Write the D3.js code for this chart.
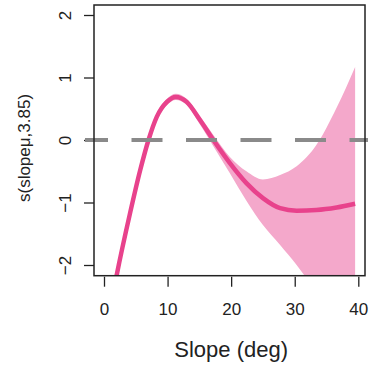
<!DOCTYPE html>
<html>
<head>
<meta charset="utf-8">
<script src="https://cdn.jsdelivr.net/npm/d3@7"></script>
<style>
  html, body { margin: 0; padding: 0; background: #fff; }
  svg { display: block; font-family: "Liberation Sans", Arial, sans-serif; }
  .tick text { fill: #222; font-size: 17px; }
  .tick line { stroke: #222; stroke-width: 1.3; }
</style>
</head>
<body>
<div id="chart"></div>
<script>
const SLOPE = [1.5, 2, 4.1, 5.7, 7, 8.3, 9.9, 11.3, 13, 15.1, 17.2, 19.8, 22.4, 25, 27.7, 30.3, 33.4, 36.6, 39.5];
const FIT   = [-2.42, -2.16, -1.17, -0.48, 0, 0.37, 0.61, 0.69, 0.61, 0.32, 0, -0.37, -0.69, -0.93, -1.09, -1.13, -1.12, -1.08, -1.02];
const UPPER = [-2.34, -2.09, -1.11, -0.43, 0.05, 0.42, 0.66, 0.74, 0.66, 0.38, 0.08, -0.27, -0.5, -0.63, -0.56, -0.42, -0.08, 0.52, 1.17];
const LOWER = [-2.5, -2.23, -1.23, -0.53, -0.05, 0.32, 0.56, 0.64, 0.56, 0.25, -0.1, -0.53, -0.97, -1.36, -1.68, -2.0, -2.43, -2.85, -3.25];
const X_TICKS = [0, 10, 20, 30, 40];
const Y_TICKS = [-2, -1, 0, 1, 2];

const width = 373, height = 368;
const box = { left: 94, right: 365, top: 5, bottom: 275.7 };

const svg = d3.select("#chart").append("svg").attr("width", width).attr("height", height);

const x = d3.scaleLinear().domain([0, 40]).range([104, 358.3]);
const y = d3.scaleLinear().domain([-2, 2]).range([265, 15]);

svg.append("defs").append("clipPath").attr("id", "plot-clip")
  .append("rect")
  .attr("x", box.left).attr("y", box.top)
  .attr("width", box.right - box.left).attr("height", box.bottom - box.top);

const rows = SLOPE.map((s, i) => ({ s, fit: FIT[i], lo: LOWER[i], hi: UPPER[i] }));

const plot = svg.append("g").attr("clip-path", "url(#plot-clip)");

plot.append("path")
  .datum(rows)
  .attr("fill", "#f4a8cb")
  .attr("d", d3.area().curve(d3.curveMonotoneX)
    .x((d) => x(d.s)).y0((d) => y(d.lo)).y1((d) => y(d.hi)));

plot.append("path")
  .datum(rows)
  .attr("fill", "none")
  .attr("stroke", "#e8428c")
  .attr("stroke-width", 4.5)
  .attr("d", d3.line().curve(d3.curveMonotoneX).x((d) => x(d.s)).y((d) => y(d.fit)));

// y axis, labels rotated like base R
svg.append("g")
  .attr("transform", `translate(${box.left},0)`)
  .call(d3.axisLeft(y).tickValues(Y_TICKS).tickSize(10).tickFormat(d3.format("d")))
  .call((g) => g.select(".domain").remove())
  .call((g) => g.selectAll("text")
    .attr("x", null).attr("dy", null)
    .attr("text-anchor", "middle")
    .attr("transform", "translate(-23,0) rotate(-90)"));

// x axis hangs just below the box
svg.append("g")
  .attr("transform", `translate(0,${box.bottom + 1})`)
  .call(d3.axisBottom(x).tickValues(X_TICKS).tickSize(10).tickPadding(16))
  .call((g) => g.select(".domain").remove());

svg.append("line")
  .attr("x1", 85).attr("x2", 368)
  .attr("y1", y(0)).attr("y2", y(0))
  .attr("stroke", "#8a8a8a")
  .attr("stroke-width", 4)
  .attr("stroke-dasharray", "31 23.5")
  .attr("stroke-dashoffset", 8);

svg.append("rect")
  .attr("x", box.left).attr("y", box.top)
  .attr("width", box.right - box.left).attr("height", box.bottom - box.top)
  .attr("fill", "none")
  .attr("stroke", "#222")
  .attr("stroke-width", 1.5);

svg.append("text")
  .attr("x", (x(0) + x(40)) / 2)
  .attr("y", 357)
  .attr("text-anchor", "middle")
  .attr("font-size", 22)
  .attr("fill", "#222")
  .text("Slope (deg)");

svg.append("text")
  .attr("transform", "translate(30,148) rotate(-90)")
  .attr("text-anchor", "middle")
  .attr("font-size", 17)
  .attr("fill", "#222")
  .text("s(slopeμ,3.85)");
</script>
</body>
</html>
